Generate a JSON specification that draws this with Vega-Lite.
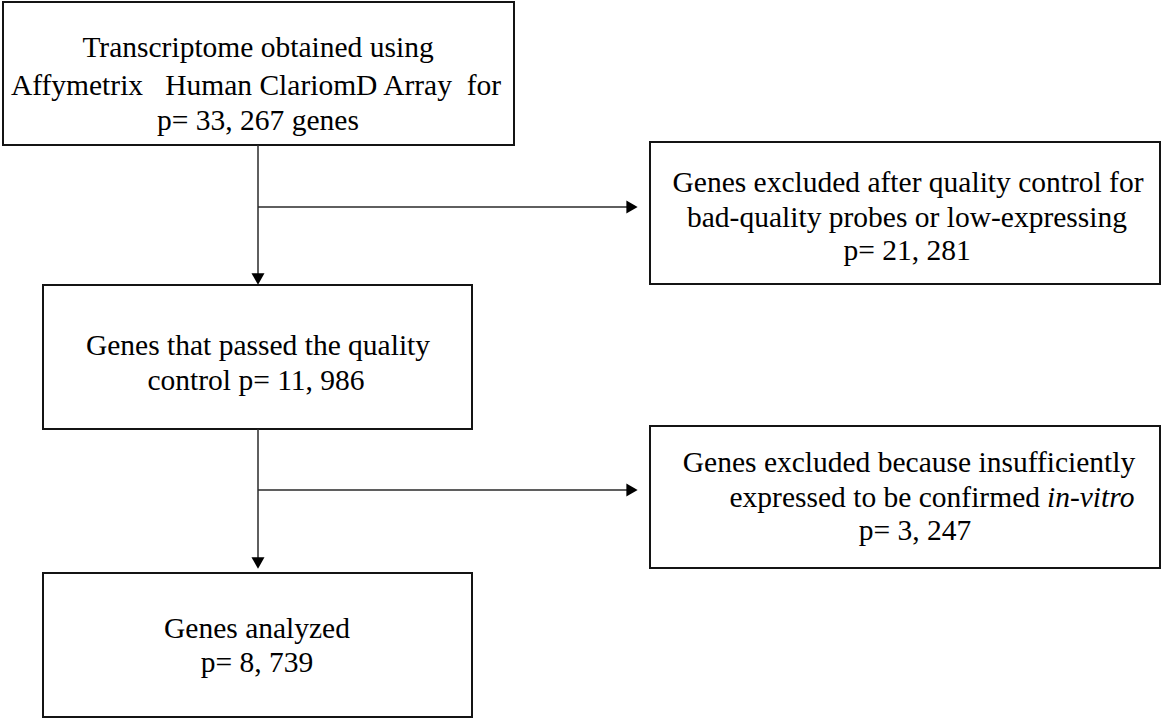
{
  "$schema": "https://vega.github.io/schema/vega-lite/v6.json",
  "width": 1163,
  "height": 720,
  "padding": 0,
  "autosize": {"type": "fit", "contains": "padding"},
  "background": "white",
  "config": {"view": {"stroke": null}},
  "datasets": {
    "boxes": [
      {"step": "Transcriptome", "x0": 3, "x1": 514, "y0": 2, "y1": 145},
      {"step": "Excluded QC", "x0": 650, "x1": 1160, "y0": 142, "y1": 284},
      {"step": "Passed QC", "x0": 43, "x1": 472, "y0": 285, "y1": 429},
      {"step": "Excluded in-vitro", "x0": 650, "x1": 1160, "y0": 426, "y1": 568},
      {"step": "Analyzed", "x0": 43, "x1": 472, "y0": 573, "y1": 717}
    ],
    "links": [
      {"from": "Transcriptome", "to": "Passed QC", "x0": 258, "x1": 258, "y0": 145, "y1": 276},
      {"from": "Transcriptome", "to": "Excluded QC", "x0": 258, "x1": 628, "y0": 207, "y1": 207},
      {"from": "Passed QC", "to": "Analyzed", "x0": 258, "x1": 258, "y0": 429, "y1": 560},
      {"from": "Passed QC", "to": "Excluded in-vitro", "x0": 258, "x1": 628, "y0": 490, "y1": 490}
    ],
    "heads": [
      {"to": "Passed QC", "x": 258, "y": 279, "dir": "down"},
      {"to": "Excluded QC", "x": 632, "y": 207, "dir": "right"},
      {"to": "Analyzed", "x": 258, "y": 563, "dir": "down"},
      {"to": "Excluded in-vitro", "x": 632, "y": 490, "dir": "right"}
    ],
    "labels": [
      {"text": "Transcriptome obtained using", "x": 258, "y": 57, "kind": "center"},
      {"text": "Affymetrix\u00a0\u00a0 Human ClariomD Array\u00a0 for", "x": 256, "y": 95, "kind": "center"},
      {"text": "p= 33, 267 genes", "x": 258, "y": 130, "kind": "center"},
      {"text": "Genes excluded after quality control for", "x": 908, "y": 192, "kind": "center"},
      {"text": "bad-quality probes or low-expressing", "x": 907, "y": 227, "kind": "center"},
      {"text": "p= 21, 281", "x": 907, "y": 260, "kind": "center"},
      {"text": "Genes that passed the quality", "x": 258, "y": 355, "kind": "center"},
      {"text": "control p= 11, 986", "x": 256, "y": 390, "kind": "center"},
      {"text": "Genes excluded because insufficiently", "x": 909, "y": 472, "kind": "center"},
      {"text": "expressed to be confirmed", "x": 1040, "y": 507, "kind": "right"},
      {"text": "in-vitro", "x": 1047, "y": 507, "kind": "italic"},
      {"text": "p= 3, 247", "x": 915, "y": 540, "kind": "center"},
      {"text": "Genes analyzed", "x": 257, "y": 638, "kind": "center"},
      {"text": "p= 8, 739", "x": 257, "y": 672, "kind": "center"}
    ]
  },
  "layer": [
    {
      "data": {"name": "boxes"},
      "mark": {"type": "rect", "fill": "white", "stroke": "#141414", "strokeWidth": 2},
      "encoding": {
        "x": {"field": "x0", "type": "quantitative", "scale": {"domain": [0, 1163], "nice": false, "zero": false}, "axis": null},
        "x2": {"field": "x1"},
        "y": {"field": "y0", "type": "quantitative", "scale": {"domain": [0, 720], "nice": false, "zero": false, "reverse": true}, "axis": null},
        "y2": {"field": "y1"}
      }
    },
    {
      "data": {"name": "links"},
      "mark": {"type": "rule", "stroke": "#2a2a2a", "strokeWidth": 1.5},
      "encoding": {
        "x": {"field": "x0", "type": "quantitative", "scale": {"domain": [0, 1163], "nice": false, "zero": false}, "axis": null},
        "x2": {"field": "x1"},
        "y": {"field": "y0", "type": "quantitative", "scale": {"domain": [0, 720], "nice": false, "zero": false, "reverse": true}, "axis": null},
        "y2": {"field": "y1"}
      }
    },
    {
      "data": {"name": "heads"},
      "mark": {"type": "point", "filled": true, "size": 170, "opacity": 1, "color": "black", "strokeWidth": 0},
      "encoding": {
        "x": {"field": "x", "type": "quantitative", "scale": {"domain": [0, 1163], "nice": false, "zero": false}, "axis": null},
        "y": {"field": "y", "type": "quantitative", "scale": {"domain": [0, 720], "nice": false, "zero": false, "reverse": true}, "axis": null},
        "shape": {"field": "dir", "type": "nominal", "scale": {"domain": ["down", "right"], "range": ["triangle-down", "triangle-right"]}, "legend": null}
      }
    },
    {
      "data": {"name": "labels"},
      "transform": [{"filter": "datum.kind === 'center'"}],
      "mark": {"type": "text", "font": "Liberation Serif", "fontSize": 29.5, "align": "center", "baseline": "alphabetic", "color": "black"},
      "encoding": {
        "x": {"field": "x", "type": "quantitative", "scale": {"domain": [0, 1163], "nice": false, "zero": false}, "axis": null},
        "y": {"field": "y", "type": "quantitative", "scale": {"domain": [0, 720], "nice": false, "zero": false, "reverse": true}, "axis": null},
        "text": {"field": "text", "type": "nominal"}
      }
    },
    {
      "data": {"name": "labels"},
      "transform": [{"filter": "datum.kind === 'right'"}],
      "mark": {"type": "text", "font": "Liberation Serif", "fontSize": 29.5, "align": "right", "baseline": "alphabetic", "color": "black"},
      "encoding": {
        "x": {"field": "x", "type": "quantitative", "scale": {"domain": [0, 1163], "nice": false, "zero": false}, "axis": null},
        "y": {"field": "y", "type": "quantitative", "scale": {"domain": [0, 720], "nice": false, "zero": false, "reverse": true}, "axis": null},
        "text": {"field": "text", "type": "nominal"}
      }
    },
    {
      "data": {"name": "labels"},
      "transform": [{"filter": "datum.kind === 'italic'"}],
      "mark": {"type": "text", "font": "Liberation Serif", "fontSize": 29.5, "fontStyle": "italic", "align": "left", "baseline": "alphabetic", "color": "black"},
      "encoding": {
        "x": {"field": "x", "type": "quantitative", "scale": {"domain": [0, 1163], "nice": false, "zero": false}, "axis": null},
        "y": {"field": "y", "type": "quantitative", "scale": {"domain": [0, 720], "nice": false, "zero": false, "reverse": true}, "axis": null},
        "text": {"field": "text", "type": "nominal"}
      }
    }
  ]
}
